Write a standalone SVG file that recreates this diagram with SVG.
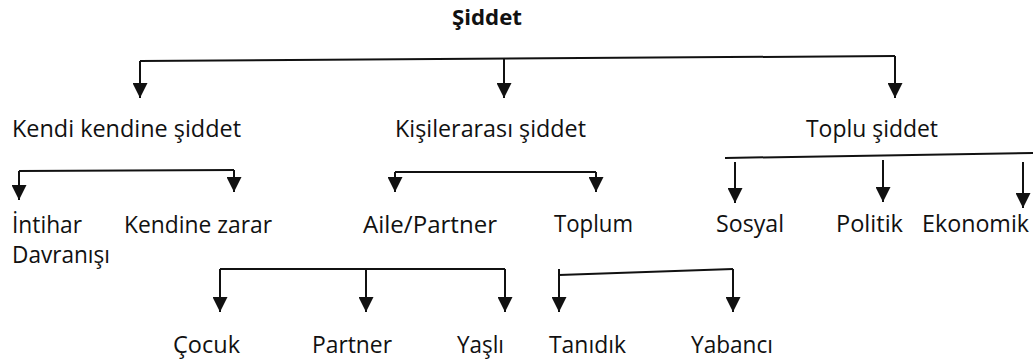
<svg xmlns="http://www.w3.org/2000/svg" width="1036" height="363" viewBox="0 0 1036 363">
  <style>
    .t { font-family: "Open Sans", "Liberation Sans", sans-serif; font-size: 24px; fill: #111; }
    .b { font-weight: bold; font-size: 22px; }
    .c { fill: none; stroke: #111; stroke-width: 2; }
  </style>
  <defs>
    <marker id="ah" viewBox="0 0 15 15" markerWidth="15" markerHeight="15" refX="15" refY="7.5" orient="auto" markerUnits="userSpaceOnUse">
      <path d="M0,0 L15,7.5 L0,15 z" fill="#111"/>
    </marker>
  </defs>
  <rect width="1036" height="363" fill="#fff"/>

  <g id="connectors">
    <path class="c" d="M140,61 L895,56"/>
    <path class="c" d="M140,61 V98" marker-end="url(#ah)"/>
    <path class="c" d="M504,59 V98" marker-end="url(#ah)"/>
    <path class="c" d="M895,56 V98" marker-end="url(#ah)"/>

    <path class="c" d="M19,171 L234,170"/>
    <path class="c" d="M19,171 V200" marker-end="url(#ah)"/>
    <path class="c" d="M234,170 V192" marker-end="url(#ah)"/>

    <path class="c" d="M395,172 H596"/>
    <path class="c" d="M395,172 V192" marker-end="url(#ah)"/>
    <path class="c" d="M596,172 V192" marker-end="url(#ah)"/>

    <path class="c" d="M725,158 L1033,153"/>
    <path class="c" d="M735,162 V203" marker-end="url(#ah)"/>
    <path class="c" d="M883,160 V202" marker-end="url(#ah)"/>
    <path class="c" d="M1023,162 V208" marker-end="url(#ah)"/>

    <path class="c" d="M220,269 H505"/>
    <path class="c" d="M220,269 V312" marker-end="url(#ah)"/>
    <path class="c" d="M366,269 V312" marker-end="url(#ah)"/>
    <path class="c" d="M505,269 V312" marker-end="url(#ah)"/>

    <path class="c" d="M559,275 L733,269"/>
    <path class="c" d="M559,269 V312" marker-end="url(#ah)"/>
    <path class="c" d="M733,269 V312" marker-end="url(#ah)"/>
  </g>

  <g id="n-siddet"><text class="t b" x="452" y="25" textLength="70" lengthAdjust="spacingAndGlyphs">Şiddet</text></g>
  <g id="n-kendi"><text class="t" x="12" y="137" textLength="229" lengthAdjust="spacingAndGlyphs">Kendi kendine şiddet</text></g>
  <g id="n-kisilerarasi"><text class="t" x="395" y="137" textLength="191" lengthAdjust="spacingAndGlyphs">Kişilerarası şiddet</text></g>
  <g id="n-toplu"><text class="t" x="806" y="137" textLength="132" lengthAdjust="spacingAndGlyphs">Toplu şiddet</text></g>

  <g id="n-intihar">
    <text class="t" x="12" y="233" textLength="70" lengthAdjust="spacingAndGlyphs">İntihar</text>
    <text class="t" x="12" y="263" textLength="98" lengthAdjust="spacingAndGlyphs">Davranışı</text>
  </g>
  <g id="n-kendinezarar"><text class="t" x="124" y="233" textLength="148" lengthAdjust="spacingAndGlyphs">Kendine zarar</text></g>
  <g id="n-aile"><text class="t" x="363" y="233" textLength="134" lengthAdjust="spacingAndGlyphs">Aile/Partner</text></g>
  <g id="n-toplum"><text class="t" x="554" y="232" textLength="79" lengthAdjust="spacingAndGlyphs">Toplum</text></g>
  <g id="n-sosyal"><text class="t" x="716" y="232" textLength="68" lengthAdjust="spacingAndGlyphs">Sosyal</text></g>
  <g id="n-politik"><text class="t" x="836" y="232" textLength="67" lengthAdjust="spacingAndGlyphs">Politik</text></g>
  <g id="n-ekonomik"><text class="t" x="922" y="232" textLength="107" lengthAdjust="spacingAndGlyphs">Ekonomik</text></g>

  <g id="n-cocuk"><text class="t" x="173" y="353" textLength="67" lengthAdjust="spacingAndGlyphs">Çocuk</text></g>
  <g id="n-partner"><text class="t" x="312" y="353" textLength="80" lengthAdjust="spacingAndGlyphs">Partner</text></g>
  <g id="n-yasli"><text class="t" x="457" y="353" textLength="47" lengthAdjust="spacingAndGlyphs">Yaşlı</text></g>
  <g id="n-tanidik"><text class="t" x="549" y="353" textLength="77" lengthAdjust="spacingAndGlyphs">Tanıdık</text></g>
  <g id="n-yabanci"><text class="t" x="691" y="353" textLength="82" lengthAdjust="spacingAndGlyphs">Yabancı</text></g>
</svg>
